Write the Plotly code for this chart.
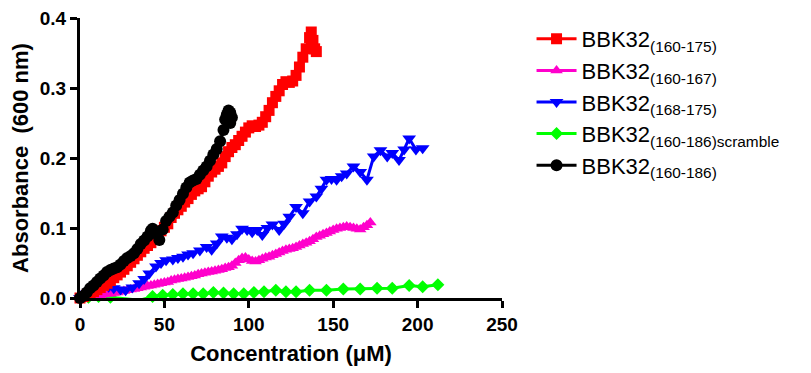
import plotly.graph_objects as go

# ---- data ----
red_x = [0, 2, 4, 6, 8, 10, 12, 14, 16, 18, 20, 22, 24, 26, 28, 30, 32, 34, 36, 38, 40, 42, 44, 46, 48, 50,
         52, 54, 56, 58, 60, 62, 64, 66, 68, 70, 72, 74, 76, 78, 80, 82, 84, 86, 88, 90, 92, 94, 96, 98, 100,
         102, 104, 106, 108, 110, 112, 114, 116, 118, 120, 122, 124, 126, 128, 130, 132, 134, 136, 137, 138, 139, 140]
red_y = [0.000, 0.002, 0.004, 0.006, 0.009, 0.012, 0.015, 0.018, 0.021, 0.025, 0.029, 0.033, 0.037, 0.041, 0.046,
         0.051, 0.056, 0.061, 0.066, 0.071, 0.075, 0.079, 0.084, 0.089, 0.096, 0.101, 0.106, 0.115, 0.121, 0.126,
         0.131, 0.137, 0.142, 0.148, 0.153, 0.156, 0.159, 0.166, 0.174, 0.180, 0.184, 0.188, 0.193, 0.202, 0.209,
         0.215, 0.219, 0.225, 0.231, 0.237, 0.243, 0.246, 0.245, 0.247, 0.251, 0.259, 0.268, 0.279, 0.288, 0.296,
         0.305, 0.309, 0.308, 0.310, 0.318, 0.330, 0.344, 0.356, 0.372, 0.380, 0.368, 0.356, 0.352]

pink_x = [0, 2, 4, 6, 8, 10, 12, 14, 16, 18, 20, 22, 24, 26, 28, 30, 32, 34, 36, 38, 40, 42, 44, 46, 48, 50,
          52, 54, 56, 58, 60, 62, 64, 66, 68, 70, 72, 74, 76, 78, 80, 82, 84, 86, 88, 90, 92, 94, 96, 98, 100,
          102, 104, 106, 108, 110, 112, 114, 116, 118, 120, 122, 124, 126, 128, 130, 132, 134, 136, 138, 140,
          142, 144, 146, 148, 150, 152, 154, 156, 158, 160, 162, 164, 166, 168, 170, 172]
pink_y = [-0.002, -0.001, 0.000, 0.001, 0.002, 0.003, 0.004, 0.005, 0.006, 0.006, 0.007, 0.008, 0.009, 0.010,
          0.011, 0.012, 0.013, 0.014, 0.015, 0.016, 0.017, 0.018, 0.019, 0.020, 0.021, 0.022, 0.023, 0.025,
          0.026, 0.027, 0.028, 0.029, 0.030, 0.031, 0.032, 0.034, 0.035, 0.036, 0.037, 0.038, 0.039, 0.040,
          0.041, 0.043, 0.044, 0.046, 0.050, 0.054, 0.057, 0.058, 0.055, 0.053, 0.052, 0.054, 0.056, 0.058,
          0.059, 0.061, 0.063, 0.065, 0.067, 0.069, 0.070, 0.071, 0.073, 0.075, 0.077, 0.079, 0.081, 0.084,
          0.087, 0.089, 0.091, 0.093, 0.095, 0.097, 0.099, 0.100, 0.101, 0.102, 0.101, 0.100, 0.099, 0.098,
          0.101, 0.104, 0.108]

blue_x = [0, 4, 7, 11, 14, 17, 20, 24, 27, 31, 35, 38, 41, 45, 48, 51, 55, 58, 61, 64, 67, 71, 75, 78, 81, 84,
          87, 90, 93, 96, 99, 102, 105, 108, 111, 114, 118, 121, 124, 128, 132, 136, 140, 143, 146, 149, 152,
          155, 158, 162, 166, 170, 174, 178, 182, 185, 189, 192, 195, 199, 203]
blue_y = [0.000, 0.006, 0.011, 0.014, 0.017, 0.016, 0.014, 0.012, 0.011, 0.015, 0.021, 0.027, 0.035, 0.045,
          0.050, 0.054, 0.055, 0.057, 0.059, 0.062, 0.064, 0.068, 0.073, 0.069, 0.078, 0.088, 0.086, 0.084,
          0.091, 0.099, 0.097, 0.094, 0.097, 0.090, 0.100, 0.105, 0.097, 0.106, 0.116, 0.130, 0.121, 0.138,
          0.145, 0.156, 0.169, 0.170, 0.169, 0.174, 0.178, 0.188, 0.180, 0.169, 0.202, 0.211, 0.202, 0.207,
          0.197, 0.212, 0.228, 0.212, 0.214]

green_x = [0, 5, 11, 18, 25, 31, 37, 43, 49, 55, 61, 67, 73, 79, 85, 91, 97, 103, 109, 116, 122, 128, 136,
           146, 156, 166, 176, 185, 195, 203, 212]
green_y = [0.000, 0.001, 0.002, 0.001, -0.001, -0.002, -0.002, 0.002, 0.004, 0.005, 0.006, 0.006, 0.006, 0.008,
           0.007, 0.006, 0.006, 0.008, 0.009, 0.011, 0.009, 0.009, 0.011, 0.011, 0.013, 0.013, 0.014, 0.014,
           0.018, 0.016, 0.019]

black_x = [0, 2, 4, 6, 8, 10, 12, 14, 16, 18, 20, 22, 24, 26, 28, 30, 32, 34, 36, 38, 40, 42, 43, 45, 47, 49,
           51, 53, 55, 57, 59, 61, 63, 65, 67, 69, 71, 73, 75, 77, 79, 81, 83, 85, 86, 87, 88, 89, 90, 89]
black_y = [0.000, 0.003, 0.008, 0.014, 0.018, 0.023, 0.028, 0.032, 0.037, 0.040, 0.042, 0.044, 0.048, 0.053,
           0.057, 0.060, 0.064, 0.070, 0.077, 0.082, 0.088, 0.096, 0.099, 0.092, 0.083, 0.098, 0.110, 0.116,
           0.122, 0.132, 0.140, 0.149, 0.158, 0.165, 0.168, 0.170, 0.176, 0.182, 0.188, 0.196, 0.205, 0.213,
           0.224, 0.240, 0.255, 0.262, 0.268, 0.265, 0.258, 0.250]

x_ticks = [0, 50, 100, 150, 200, 250]
y_ticks = [0.0, 0.1, 0.2, 0.3, 0.4]

# (name, x, y, colour, symbol, marker size, legend rank) -- listed in drawing order
series = [
    ("BBK32<sub>(160-186)scramble</sub>", green_x, green_y, "#00FF00", "diamond", 10, 4),
    ("BBK32<sub>(160-167)</sub>", pink_x, pink_y, "#FF00CC", "triangle-up", 11, 2),
    ("BBK32<sub>(168-175)</sub>", blue_x, blue_y, "#0000FF", "triangle-down", 12, 3),
    ("BBK32<sub>(160-175)</sub>", red_x, red_y, "#FF0000", "square", 11, 1),
    ("BBK32<sub>(160-186)</sub>", black_x, black_y, "#000000", "circle", 12, 5),
]

fig = go.Figure()
for name, xs, ys, col, sym, sz, rank in series:
    fig.add_trace(go.Scatter(
        x=xs, y=ys, name=name, mode="lines+markers", legendrank=rank,
        line=dict(color=col, width=3),
        marker=dict(color=col, symbol=sym, size=sz, line=dict(width=0)),
        cliponaxis=False,
    ))

axis_common = dict(
    showline=True, linecolor="black", linewidth=3,
    ticks="outside", ticklen=7, tickwidth=3, tickcolor="black",
    showgrid=False, zeroline=False, automargin=False, ticklabeloverflow="allow",
    tickfont=dict(family="Liberation Sans", size=19, color="black", weight="bold"),
)

fig.update_layout(
    width=803, height=365,
    margin=dict(l=72, r=309, t=10, b=75),
    paper_bgcolor="white", plot_bgcolor="white",
    font=dict(family="Liberation Sans", color="black"),
    xaxis=dict(range=[0, 250], tickvals=x_ticks, **axis_common,
               title=dict(text="Concentration (μM)", standoff=12,
                          font=dict(family="Liberation Sans", size=22, color="black", weight="bold"))),
    yaxis=dict(range=[0, 0.4], tickvals=y_ticks, tickformat=".1f", **axis_common,
               title=dict(text="Absorbance  (600 nm)", standoff=6,
                          font=dict(family="Liberation Sans", size=22, color="black", weight="bold"))),
    legend=dict(x=1.07, y=1.0, xanchor="left", yanchor="top",
                font=dict(family="Liberation Sans", size=22, color="black"),
                bgcolor="rgba(0,0,0,0)", itemwidth=40),
    showlegend=True,
)

fig.write_html("out.html")
